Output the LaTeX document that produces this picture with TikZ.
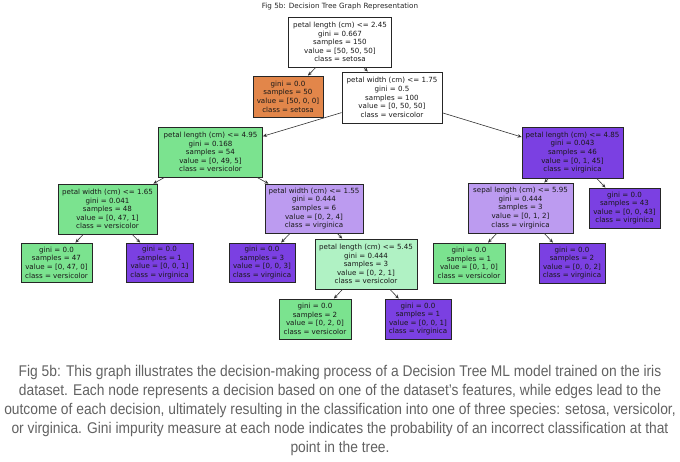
\documentclass[tikz,border=0pt]{standalone}
\usepackage{fontspec}
\setmainfont{DejaVu Sans}
\newfontfamily\capfont[FakeStretch=0.89]{Liberation Sans}
\usetikzlibrary{arrows.meta}
\definecolor{cOr}{HTML}{E2864A}
\definecolor{cGr}{HTML}{7BE38F}
\definecolor{cGrL}{HTML}{B0F2C4}
\definecolor{cPu}{HTML}{7B40E2}
\definecolor{cPuL}{HTML}{BC9BF0}
\definecolor{cCap}{HTML}{626262}
\begin{document}
\begin{tikzpicture}[x=1pt,y=-1pt,
  tbox/.style={draw=black!85, line width=0.8pt, align=center,
    font=\fontsize{7.1}{8.6}\selectfont, inner xsep=2pt, inner ysep=3pt, text=black!90},
  arr/.style={-{Stealth[length=4pt,width=3.5pt]}, line width=0.6pt, draw=black!80},
  captxt/.style={font=\capfont\fontsize{15.5}{19}\selectfont, text=cCap, inner sep=0pt}]
\useasboundingbox (0,0) rectangle (680,462);
\fill[white] (0,0) rectangle (680,462);

\node[font=\fontsize{7.2}{8}\selectfont, text=black!85, inner sep=0pt] (title) at (340,7) {Fig 5b: Decision Tree Graph Representation};

\node[tbox, fill=white, minimum width=103, minimum height=50] (root) at (340,42)
  {petal length (cm) <= 2.45\\gini = 0.667\\samples = 150\\value = [50, 50, 50]\\class = setosa};
\node[tbox, fill=cOr, minimum width=70, minimum height=41] (setosa) at (288,96.5)
  {gini = 0.0\\samples = 50\\value = [50, 0, 0]\\class = setosa};
\node[tbox, fill=white, minimum width=100, minimum height=51] (pw175) at (392,97.5)
  {petal width (cm) <= 1.75\\gini = 0.5\\samples = 100\\value = [0, 50, 50]\\class = versicolor};
\node[tbox, fill=cGr, minimum width=104, minimum height=50] (pl495) at (210.5,152)
  {petal length (cm) <= 4.95\\gini = 0.168\\samples = 54\\value = [0, 49, 5]\\class = versicolor};
\node[tbox, fill=cPu, minimum width=101, minimum height=51] (pl485) at (572.5,152.5)
  {petal length (cm) <= 4.85\\gini = 0.043\\samples = 46\\value = [0, 1, 45]\\class = virginica};
\node[tbox, fill=cGr, minimum width=99, minimum height=50] (pw165) at (107.5,209)
  {petal width (cm) <= 1.65\\gini = 0.041\\samples = 48\\value = [0, 47, 1]\\class = versicolor};
\node[tbox, fill=cPuL, minimum width=98, minimum height=49] (pw155) at (314,208.5)
  {petal width (cm) <= 1.55\\gini = 0.444\\samples = 6\\value = [0, 2, 4]\\class = virginica};
\node[tbox, fill=cPuL, minimum width=105, minimum height=50] (sl595) at (520.5,208)
  {sepal length (cm) <= 5.95\\gini = 0.444\\samples = 3\\value = [0, 1, 2]\\class = virginica};
\node[tbox, fill=cPu, minimum width=71, minimum height=40] (l43) at (624.5,208)
  {gini = 0.0\\samples = 43\\value = [0, 0, 43]\\class = virginica};
\node[tbox, fill=cGr, minimum width=71, minimum height=39] (l47) at (56.5,262.5)
  {gini = 0.0\\samples = 47\\value = [0, 47, 0]\\class = versicolor};
\node[tbox, fill=cPu, minimum width=67, minimum height=39] (lv1a) at (159.5,262.5)
  {gini = 0.0\\samples = 1\\value = [0, 0, 1]\\class = virginica};
\node[tbox, fill=cPu, minimum width=66, minimum height=39] (lv3) at (262,262.5)
  {gini = 0.0\\samples = 3\\value = [0, 0, 3]\\class = virginica};
\node[tbox, fill=cGrL, minimum width=102, minimum height=50] (pl545) at (366,264)
  {petal length (cm) <= 5.45\\gini = 0.444\\samples = 3\\value = [0, 2, 1]\\class = versicolor};
\node[tbox, fill=cGr, minimum width=72, minimum height=40] (lc1) at (469,263)
  {gini = 0.0\\samples = 1\\value = [0, 1, 0]\\class = versicolor};
\node[tbox, fill=cPu, minimum width=66, minimum height=40] (lv2) at (572,263)
  {gini = 0.0\\samples = 2\\value = [0, 0, 2]\\class = virginica};
\node[tbox, fill=cGr, minimum width=72, minimum height=40] (lc2) at (315,319)
  {gini = 0.0\\samples = 2\\value = [0, 2, 0]\\class = versicolor};
\node[tbox, fill=cPu, minimum width=66, minimum height=40] (lv1b) at (418,319)
  {gini = 0.0\\samples = 1\\value = [0, 0, 1]\\class = virginica};

\draw[arr] (root) -- (setosa);
\draw[arr] (root) -- (pw175);
\draw[arr] (pw175) -- (pl495);
\draw[arr] (pw175) -- (pl485);
\draw[arr] (pl495) -- (pw165);
\draw[arr] (pl495) -- (pw155);
\draw[arr] (pw165) -- (l47);
\draw[arr] (pw165) -- (lv1a);
\draw[arr] (pw155) -- (lv3);
\draw[arr] (pw155) -- (pl545);
\draw[arr] (pl545) -- (lc2);
\draw[arr] (pl545) -- (lv1b);
\draw[arr] (pl485) -- (sl595);
\draw[arr] (pl485) -- (l43);
\draw[arr] (sl595) -- (lc1);
\draw[arr] (sl595) -- (lv2);

\node[captxt] (c1) at (340,372) {Fig 5b: This graph illustrates the decision-making process of a Decision Tree ML model trained on the iris};
\node[captxt] (c2) at (340,391) {dataset. Each node represents a decision based on one of the dataset’s features, while edges lead to the};
\node[captxt] (c3) at (340,410) {outcome of each decision, ultimately resulting in the classification into one of three species: setosa, versicolor,};
\node[captxt] (c4) at (340,429) {or virginica. Gini impurity measure at each node indicates the probability of an incorrect classification at that};
\node[captxt] (c5) at (340,448) {point in the tree.};
\end{tikzpicture}
\end{document}
